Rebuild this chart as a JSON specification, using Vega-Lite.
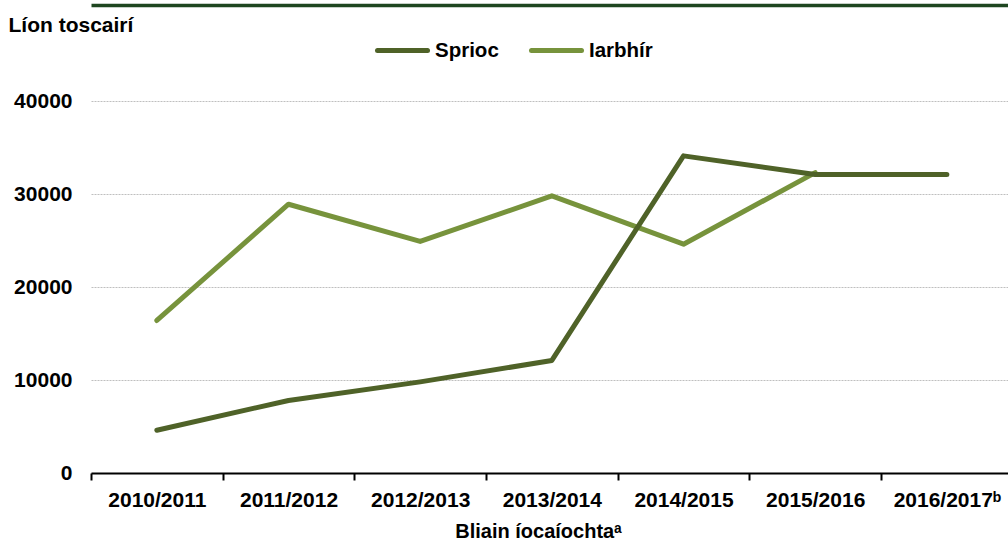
{
  "$schema": "https://vega.github.io/schema/vega-lite/v6.json",
  "autosize": {"type": "none"},
  "width": 917,
  "height": 372,
  "padding": {"left": 91, "top": 101, "right": 0, "bottom": 69},
  "background": "white",
  "config": {
    "view": {"stroke": null},
    "font": "Liberation Sans",
    "axis": {"labelFont": "Liberation Sans", "titleFont": "Liberation Sans", "labelFontWeight": "bold", "titleFontWeight": "bold", "labelColor": "black", "titleColor": "black"},
    "legend": {"labelFont": "Liberation Sans", "labelFontWeight": "bold"}
  },
  "data": {
    "values": [
      {"bliain": "2010/2011", "sraith": "Sprioc", "luach": 4600},
      {"bliain": "2011/2012", "sraith": "Sprioc", "luach": 7800},
      {"bliain": "2012/2013", "sraith": "Sprioc", "luach": 9800},
      {"bliain": "2013/2014", "sraith": "Sprioc", "luach": 12100},
      {"bliain": "2014/2015", "sraith": "Sprioc", "luach": 34100},
      {"bliain": "2015/2016", "sraith": "Sprioc", "luach": 32100},
      {"bliain": "2016/2017", "sraith": "Sprioc", "luach": 32100},
      {"bliain": "2010/2011", "sraith": "Iarbhír", "luach": 16400},
      {"bliain": "2011/2012", "sraith": "Iarbhír", "luach": 28900},
      {"bliain": "2012/2013", "sraith": "Iarbhír", "luach": 24900},
      {"bliain": "2013/2014", "sraith": "Iarbhír", "luach": 29800},
      {"bliain": "2014/2015", "sraith": "Iarbhír", "luach": 24600},
      {"bliain": "2015/2016", "sraith": "Iarbhír", "luach": 32300}
    ]
  },
  "encoding": {
    "y": {
      "field": "luach", "type": "quantitative",
      "scale": {"domain": [0, 40000], "nice": false},
      "axis": {
        "values": [0, 10000, 20000, 30000, 40000], "format": "d",
        "labelFontSize": 21, "labelPadding": 19, "ticks": false, "domain": false,
        "grid": true, "gridColor": "#BFBFBF", "gridDash": [2, 1], "gridWidth": 1,
        "title": "Líon toscairí", "titleFontSize": 21, "titleAngle": 0, "titleAlign": "left",
        "titleBaseline": "alphabetic", "titleX": -83, "titleY": -70
      }
    },
    "color": {
      "field": "sraith", "type": "nominal",
      "scale": {"domain": ["Sprioc", "Iarbhír"], "range": ["#4F6228", "#77933C"]},
      "legend": {
        "title": null, "orient": "none", "direction": "horizontal", "legendX": 284, "legendY": -78,
        "symbolType": "stroke", "symbolSize": 2500, "symbolStrokeWidth": 5,
        "labelFontSize": 20.5, "labelOffset": 5, "columnPadding": 22,
        "encode": {"symbols": {"update": {"strokeCap": {"value": "round"}}}}
      }
    }
  },
  "layer": [
    {
      "transform": [{"filter": "datum.sraith === 'Iarbhír'"}],
      "mark": {"type": "line", "strokeWidth": 5, "strokeCap": "round", "strokeJoin": "round"},
      "encoding": {
        "x": {
          "field": "bliain", "type": "ordinal", "bandPosition": 0.5,
          "scale": {"type": "band", "paddingInner": 0, "paddingOuter": 0, "range": [0, 921.7]},
          "axis": {"orient": "top", "offset": 96, "labels": false, "ticks": false, "title": null, "domainColor": "#1E4620", "domainWidth": 3.5, "grid": false}
        }
      }
    },
    {
      "transform": [{"filter": "datum.sraith === 'Sprioc'"}],
      "mark": {"type": "line", "strokeWidth": 5, "strokeCap": "round", "strokeJoin": "round"},
      "encoding": {
        "x": {
          "field": "bliain", "type": "ordinal", "bandPosition": 0.5,
          "axis": {
            "orient": "bottom", "title": "Bliain íocaíochtaᵃ", "titleFontSize": 20, "titlePadding": 11, "titleX": 447,
            "labelAngle": 0, "labelFontSize": 21, "labelPadding": 9,
            "labelExpr": "datum.value === '2016/2017' ? datum.value + 'ᵇ' : datum.value",
            "tickBand": "extent", "tickSize": 7, "tickWidth": 2, "tickColor": "black",
            "domainColor": "black", "domainWidth": 2, "grid": false
          }
        }
      }
    }
  ]
}
